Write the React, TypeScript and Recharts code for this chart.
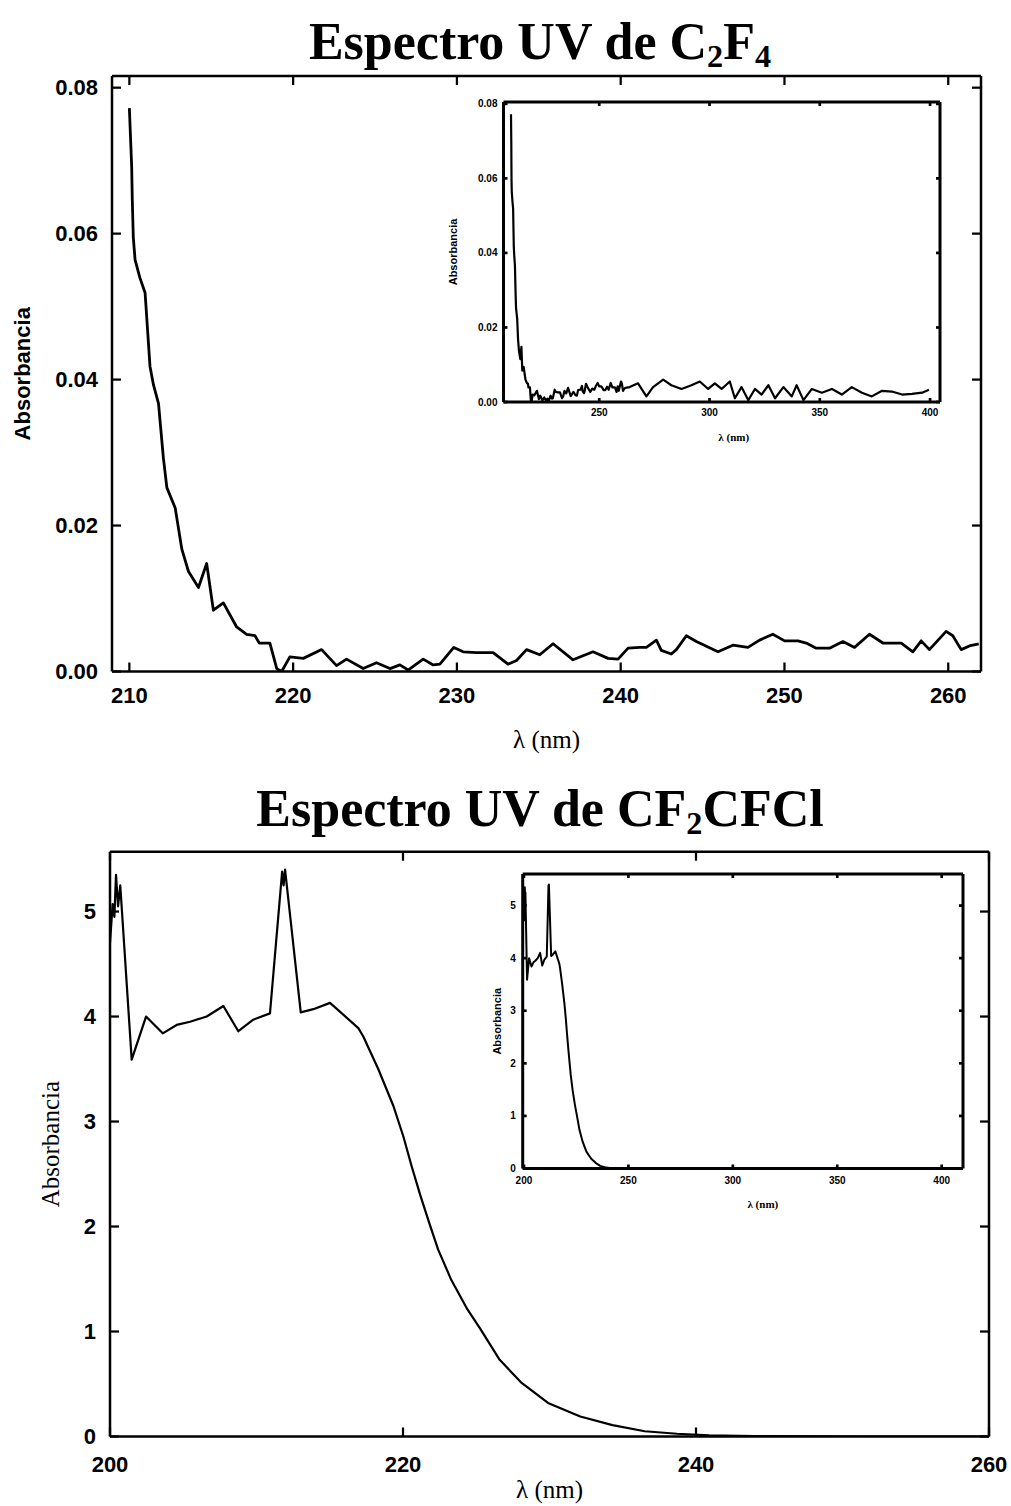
import React from 'react';
import { LineChart, Line, XAxis, YAxis, Label } from 'recharts';

// C2F4 spectrum, 210-262 nm (main panel)
const c2f4Wl = [
  210.0, 210.14, 210.18, 210.24, 210.35, 210.65, 210.96, 211.26, 211.47, 211.78,
  212.08, 212.29, 212.8, 213.2, 213.61, 214.22, 214.72, 215.13, 215.74, 216.55,
  217.16, 217.67, 217.93, 218.58, 219.0, 219.3, 219.8, 220.62, 221.74, 222.65,
  223.26, 224.28, 225.09, 225.91, 226.52, 227.02, 227.94, 228.55, 228.96, 229.81,
  230.38, 231.2, 232.21, 233.12, 233.64, 234.25, 235.06, 235.87, 237.09, 238.31,
  239.23, 239.84, 240.45, 241.16, 241.57, 242.18, 242.48, 243.09, 243.4, 244.01,
  244.62, 245.94, 246.85, 247.77, 248.48, 249.29, 250.01, 250.82, 251.33, 251.94,
  252.75, 253.57, 254.28, 255.19, 256.01, 257.13, 257.84, 258.35, 258.85, 259.87,
  260.28, 260.79, 261.29, 261.86,
];
const c2f4Abs = [
  0.0772, 0.0693, 0.0645, 0.0595, 0.0564, 0.0539, 0.0519, 0.0418, 0.0393, 0.0367,
  0.0292, 0.0252, 0.0224, 0.0168, 0.0137, 0.0115, 0.0148, 0.0084, 0.0094, 0.0061,
  0.0051, 0.0049, 0.0039, 0.0039, 0.0004, 0.0, 0.002, 0.0018, 0.003, 0.0008,
  0.0017, 0.0004, 0.0012, 0.0004, 0.0009, 0.0002, 0.0017, 0.0009, 0.001, 0.0033,
  0.0027, 0.0026, 0.0026, 0.001, 0.0015, 0.003, 0.0023, 0.0038, 0.0016, 0.0027,
  0.0018, 0.0017, 0.0032, 0.0033, 0.0033, 0.0043, 0.0029, 0.0024, 0.003, 0.0049,
  0.0041, 0.0027, 0.0036, 0.0033, 0.0043, 0.0051, 0.0042, 0.0042, 0.0039, 0.0032,
  0.0032, 0.0041, 0.0033, 0.0051, 0.0039, 0.0039, 0.0027, 0.0042, 0.003, 0.0055,
  0.0049, 0.003, 0.0035, 0.0038,
];
// C2F4 beyond 262 nm (only in the inset)
const c2f4TailWl = [
  263.8, 267.6, 271.4, 274.4, 279.0, 282.7, 287.3, 291.8, 295.6, 299.4,
  302.4, 305.5, 309.2, 311.5, 314.5, 317.6, 320.6, 323.6, 326.7, 329.7,
  333.5, 337.3, 339.5, 342.6, 346.4, 350.9, 355.5, 360.0, 364.5, 369.1,
  373.6, 378.2, 382.7, 387.3, 391.8, 396.4, 399.5,
];
const c2f4TailAbs = [
  0.004, 0.005, 0.0015, 0.004, 0.006, 0.0045, 0.0035, 0.0045, 0.0055, 0.0035,
  0.005, 0.0035, 0.0055, 0.001, 0.004, 0.0005, 0.0035, 0.002, 0.0045, 0.001,
  0.004, 0.0015, 0.0045, 0.0005, 0.0035, 0.0025, 0.0035, 0.002, 0.004, 0.0025,
  0.0015, 0.003, 0.0028, 0.002, 0.0022, 0.0025, 0.0033,
];

// CF2CFCl spectrum, 200-260 nm (main panel)
const cfclWl = [
  200.0, 200.18, 200.3, 200.41, 200.55, 200.7, 201.48, 202.46, 203.6, 204.55,
  205.46, 206.6, 207.74, 208.76, 209.78, 210.92, 211.75, 211.85, 211.95, 213.02,
  213.88, 215.02, 216.95, 217.29, 218.31, 219.34, 220.02, 220.6, 221.2, 221.8,
  222.4, 223.3, 224.4, 225.3, 226.6, 228.1, 229.9, 232.1, 234.3, 236.5,
  238.7, 240.9, 244.0, 248.0, 252.0, 260.0,
];
const cfclAbs = [
  4.7, 5.07, 4.95, 5.35, 5.05, 5.25, 3.59, 4.0, 3.84, 3.92,
  3.95, 4.0, 4.1, 3.86, 3.97, 4.03, 5.38, 5.25, 5.4, 4.04,
  4.07, 4.13, 3.89, 3.81, 3.5, 3.15, 2.86, 2.57, 2.29, 2.03,
  1.78, 1.49, 1.21, 1.02, 0.73, 0.51, 0.32, 0.19, 0.108, 0.05,
  0.026, 0.01, 0.004, 0.001, 0.0, 0.0,
];
const cfclTailWl = [300, 350, 400];
const cfclTailAbs = [0, 0, 0];

const c2f4AbsTicks = [0, 0.02, 0.04, 0.06, 0.08];
const c2f4WlTicks = [210, 220, 230, 240, 250, 260];
const c2f4InsetWlTicks = [250, 300, 350, 400];
const cfclAbsTicks = [0, 1, 2, 3, 4, 5];
const cfclWlTicks = [200, 220, 240, 260];
const cfclInsetWlTicks = [200, 250, 300, 350, 400];

const toRows = (wl: number[], abs: number[]) => wl.map((w, i) => ({ wl: w, abs: abs[i] }));

const SANS = '"Liberation Sans", Arial, sans-serif';
const SERIF = '"Liberation Serif", "Times New Roman", serif';

type Side = 'bottom' | 'left' | 'top' | 'right';

// draws an inward frame tick (and the label on bottom/left sides)
const frameTick = (side: Side, len: number, gap: number, width: number, font?: any, fmt?: (v: number) => string) =>
  (props: any) => {
    const { x, y, payload } = props;
    const text = fmt ? fmt(payload.value) : String(payload.value);
    if (side === 'bottom') {
      const ay = y - gap;
      return (
        <g>
          <line x1={x} x2={x} y1={ay} y2={ay - len} stroke="#000" strokeWidth={width} />
          <text x={x} y={y} dy="0.71em" textAnchor="middle" fill="#000" {...font}>{text}</text>
        </g>
      );
    }
    if (side === 'left') {
      const ax = x + gap;
      return (
        <g>
          <line x1={ax} x2={ax + len} y1={y} y2={y} stroke="#000" strokeWidth={width} />
          <text x={x} y={y} dy="0.355em" textAnchor="end" fill="#000" {...font}>{text}</text>
        </g>
      );
    }
    if (side === 'top') {
      return <line x1={x} x2={x} y1={y} y2={y + len} stroke="#000" strokeWidth={width} />;
    }
    return <line x1={x} x2={x - len} y1={y} y2={y} stroke="#000" strokeWidth={width} />;
  };

type SpectrumProps = {
  rows: { wl: number; abs: number }[];
  left: number;
  top: number;
  width: number;
  height: number;
  // plot box inside the chart
  box: { left: number; top: number; right: number; bottom: number };
  xDomain: [number, number];
  yDomain: [number, number];
  xTicks: number[];
  yTicks: number[];
  yFormat?: (v: number) => string;
  tickLen: number;
  tickFont: any;
  xTickGap: number;
  yTickGap: number;
  frameWidth: number;
  lineWidth: number;
  xLabel: string;
  xLabelFont: any;
  xLabelOffset: number;
  xLabelDx?: number;
  yLabel: string;
  yLabelFont: any;
  yLabelOffset: number;
};

const Spectrum = (p: SpectrumProps) => {
  const axisLine = { stroke: '#000', strokeWidth: p.frameWidth };
  const tw = p.frameWidth * 0.9;
  return (
    <div style={{ position: 'absolute', left: p.left, top: p.top }}>
      <LineChart
        width={p.width}
        height={p.height}
        data={p.rows}
        margin={{ top: p.box.top, right: p.width - p.box.right, left: 0, bottom: 0 }}
      >
        <XAxis
          xAxisId="b"
          dataKey="wl"
          type="number"
          domain={p.xDomain}
          ticks={p.xTicks}
          interval={0}
          allowDataOverflow
          height={p.height - p.box.bottom}
          axisLine={axisLine}
          tickLine={false}
          tickSize={0}
          tickMargin={p.xTickGap}
          tick={frameTick('bottom', p.tickLen, p.xTickGap, tw, p.tickFont)}
        >
          <Label
            value={p.xLabel}
            position="insideBottom"
            offset={p.xLabelOffset}
            dx={p.xLabelDx || 0}
            fill="#000"
            {...p.xLabelFont}
          />
        </XAxis>
        <XAxis
          xAxisId="t"
          orientation="top"
          mirror
          dataKey="wl"
          type="number"
          domain={p.xDomain}
          ticks={p.xTicks}
          interval={0}
          allowDataOverflow
          height={p.tickLen}
          axisLine={axisLine}
          tickLine={false}
          tickSize={0}
          tickMargin={0}
          tick={frameTick('top', p.tickLen, 0, tw)}
        />
        <YAxis
          yAxisId="l"
          type="number"
          domain={p.yDomain}
          ticks={p.yTicks}
          interval={0}
          allowDataOverflow
          width={p.box.left}
          axisLine={axisLine}
          tickLine={false}
          tickSize={0}
          tickMargin={p.yTickGap}
          tick={frameTick('left', p.tickLen, p.yTickGap, tw, p.tickFont, p.yFormat)}
        >
          <Label
            value={p.yLabel}
            angle={-90}
            position="insideLeft"
            offset={p.yLabelOffset}
            fill="#000"
            style={{ textAnchor: 'middle' }}
            {...p.yLabelFont}
          />
        </YAxis>
        <YAxis
          yAxisId="r"
          orientation="right"
          mirror
          type="number"
          domain={p.yDomain}
          ticks={p.yTicks}
          interval={0}
          allowDataOverflow
          width={p.tickLen}
          axisLine={axisLine}
          tickLine={false}
          tickSize={0}
          tickMargin={0}
          tick={frameTick('right', p.tickLen, 0, tw)}
        />
        <Line
          xAxisId="b"
          yAxisId="l"
          dataKey="abs"
          type="linear"
          stroke="#000"
          strokeWidth={p.lineWidth}
          strokeLinejoin="round"
          dot={false}
          isAnimationActive={false}
        />
      </LineChart>
    </div>
  );
};

const titleStyle: React.CSSProperties = {
  position: 'absolute',
  left: 40,
  width: 1000,
  textAlign: 'center',
  fontFamily: SERIF,
  fontWeight: 700,
  fontSize: 52,
  lineHeight: '52px',
  color: '#000',
  whiteSpace: 'nowrap',
};
const subStyle: React.CSSProperties = { fontSize: '0.62em', verticalAlign: '-0.25em', lineHeight: 0 };

const App = () => {
  const c2f4Rows = toRows(c2f4Wl, c2f4Abs);
  const c2f4InsetRows = toRows([...c2f4Wl, ...c2f4TailWl], [...c2f4Abs, ...c2f4TailAbs]);
  const cfclRows = toRows(cfclWl, cfclAbs);
  const cfclInsetRows = toRows([...cfclWl, ...cfclTailWl], [...cfclAbs, ...cfclTailAbs]);

  const mainTick = { fontSize: 22, fontFamily: SANS, fontWeight: 700 };
  const insetTick = { fontSize: 10, fontFamily: SANS, fontWeight: 700 };

  return (
    <div style={{ position: 'absolute', left: 0, top: 0, width: 1011, height: 1506, background: '#fff' }}>
      <div style={{ ...titleStyle, top: 16 }}>
        Espectro UV de C<sub style={subStyle}>2</sub>F<sub style={subStyle}>4</sub>
      </div>
      <Spectrum
        rows={c2f4Rows}
        left={0}
        top={0}
        width={1011}
        height={770}
        box={{ left: 112, top: 76, right: 981, bottom: 671.5 }}
        xDomain={[208.94, 262]}
        yDomain={[0, 0.0816]}
        xTicks={c2f4WlTicks}
        yTicks={c2f4AbsTicks}
        yFormat={(v) => v.toFixed(2)}
        tickLen={9}
        tickFont={mainTick}
        xTickGap={16}
        yTickGap={14}
        frameWidth={2.5}
        lineWidth={2.8}
        xLabel="λ (nm)"
        xLabelFont={{ fontSize: 25, fontFamily: SERIF }}
        xLabelOffset={22}
        yLabel="Absorbancia"
        yLabelFont={{ fontSize: 22, fontFamily: SANS, fontWeight: 700 }}
        yLabelOffset={22}
      />
      <Spectrum
        rows={c2f4InsetRows}
        left={430}
        top={80}
        width={530}
        height={370}
        box={{ left: 73.5, top: 22, right: 510, bottom: 322 }}
        xDomain={[206.6, 404.5]}
        yDomain={[0, 0.0805]}
        xTicks={c2f4InsetWlTicks}
        yTicks={c2f4AbsTicks}
        yFormat={(v) => v.toFixed(2)}
        tickLen={4}
        tickFont={insetTick}
        xTickGap={7}
        yTickGap={6}
        frameWidth={3}
        lineWidth={2.2}
        xLabel="λ (nm)"
        xLabelFont={{ fontSize: 11, fontFamily: SERIF, fontWeight: 700 }}
        xLabelOffset={9}
        xLabelDx={12}
        yLabel="Absorbancia"
        yLabelFont={{ fontSize: 11, fontFamily: SANS, fontWeight: 700 }}
        yLabelOffset={23}
      />

      <div style={{ ...titleStyle, top: 783 }}>
        Espectro UV de CF<sub style={subStyle}>2</sub>CFCl
      </div>
      <Spectrum
        rows={cfclRows}
        left={0}
        top={780}
        width={1011}
        height={726}
        box={{ left: 110, top: 71.7, right: 989, bottom: 656.5 }}
        xDomain={[200, 260]}
        yDomain={[0, 5.57]}
        xTicks={cfclWlTicks}
        yTicks={cfclAbsTicks}
        tickLen={9}
        tickFont={mainTick}
        xTickGap={20}
        yTickGap={14}
        frameWidth={2.5}
        lineWidth={2.2}
        xLabel="λ (nm)"
        xLabelFont={{ fontSize: 25, fontFamily: SERIF }}
        xLabelOffset={8}
        yLabel="Absorbancia"
        yLabelFont={{ fontSize: 25, fontFamily: SERIF }}
        yLabelOffset={50}
      />
      <Spectrum
        rows={cfclInsetRows}
        left={460}
        top={860}
        width={520}
        height={360}
        box={{ left: 62.7, top: 14, right: 503, bottom: 308.5 }}
        xDomain={[199.4, 410.2]}
        yDomain={[0, 5.6]}
        xTicks={cfclInsetWlTicks}
        yTicks={cfclAbsTicks}
        tickLen={4}
        tickFont={insetTick}
        xTickGap={8}
        yTickGap={7}
        frameWidth={3}
        lineWidth={2}
        xLabel="λ (nm)"
        xLabelFont={{ fontSize: 11, fontFamily: SERIF, fontWeight: 700 }}
        xLabelOffset={12}
        xLabelDx={20}
        yLabel="Absorbancia"
        yLabelFont={{ fontSize: 11, fontFamily: SANS, fontWeight: 700 }}
        yLabelOffset={37}
      />
    </div>
  );
};

export default App;
